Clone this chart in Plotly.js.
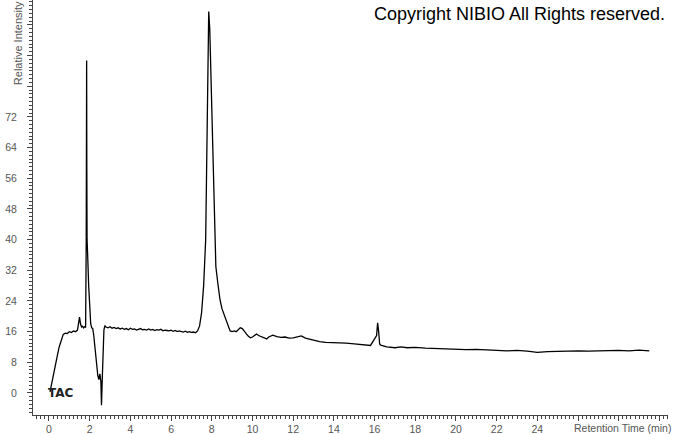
<!DOCTYPE html>
<html>
<head>
<meta charset="utf-8">
<script src="https://cdn.plot.ly/plotly-3.0.1.min.js"></script>
<style>html,body{margin:0;padding:0;background:#fff;}#chart{width:674px;height:434px;}</style>
</head>
<body>
<div id="chart"></div>
<script>
// Retention time (min)
var retentionTime = [
  0.05,0.1,0.2,0.3,0.4,0.5,0.6,0.7,0.8,0.9,1.0,1.1,1.2,1.3,1.4,1.45,1.5,1.55,1.6,1.65,1.7,1.75,1.8,
  1.83,1.84,1.85,1.86,1.87,1.88,1.9,1.95,2.0,2.05,2.1,2.15,2.2,2.25,2.3,2.35,2.4,2.45,2.5,2.55,2.58,2.62,2.65,2.7,2.75,2.8,
  2.9,3.0,3.1,3.2,3.3,3.4,3.5,3.6,3.7,3.8,3.9,4.0,4.1,4.2,4.3,4.4,4.5,4.6,4.7,4.8,4.9,5.0,
  5.1,5.2,5.3,5.4,5.5,5.6,5.7,5.8,5.9,6.0,6.1,6.2,6.3,6.4,6.5,6.6,6.7,6.8,6.9,7.0,7.1,7.2,7.3,
  7.4,7.5,7.6,7.7,7.75,7.8,7.85,7.9,7.95,8.0,8.05,8.1,8.15,8.2,8.3,8.4,8.5,8.6,8.7,8.8,8.9,
  9.0,9.1,9.2,9.3,9.4,9.5,9.6,9.7,9.8,9.9,10.0,10.1,10.2,10.3,10.4,10.5,10.6,10.7,10.8,10.9,
  11.0,11.2,11.4,11.6,11.8,12.0,12.2,12.4,12.6,12.8,13.0,13.3,13.6,14.0,14.3,14.6,15.0,15.4,15.8,16.1,
  16.15,16.2,16.25,16.3,16.4,16.6,17.0,17.3,17.6,18.0,18.5,19.0,19.5,20.0,20.5,21.0,21.5,22.0,22.5,23.0,
  23.5,24.0,24.5,25.0,25.5,26.0,26.5,27.0,27.5,28.0,28.5,29.0,29.5,29.9
];
// Relative intensity
var relativeIntensity = [
  0.3,1.5,4,7,9.5,12,14,15.3,15.6,15.5,16.0,15.8,16.2,16.0,16.4,18.5,19.8,18.0,17.2,17.4,17.0,17.3,17.1,
  40,58,86.7,58,40,39,36,28,22,18,17,16.8,15,12,9,6,4.5,3.5,5,3,-3.2,4,12,16.5,17.6,
  17.2,17.0,17.3,16.9,17.1,16.8,17.0,16.7,16.9,16.6,16.8,16.5,16.9,16.6,16.7,16.4,16.6,16.8,16.5,16.6,16.4,16.7,
  16.4,16.6,16.3,16.5,16.4,16.6,16.2,16.4,16.3,16.2,16.4,16.1,16.3,16.0,16.2,16.0,15.9,16.1,15.8,16.0,15.8,15.9,15.7,
  16.2,17.5,21,28,40,60,80,99.5,95,85,72,60,50,42,33,28.5,24.5,22,20.5,19,17.5,
  16.2,16.0,16.2,16.0,16.6,17.0,16.8,16.0,15.4,14.8,14.4,14.6,15.1,15.4,15.0,14.8,14.5,14.2,14.1,14.6,
  14.8,15.1,14.7,14.5,14.6,14.3,14.4,14.6,14.9,14.3,14.0,13.8,13.4,13.2,13.1,13.2,13.0,12.8,12.6,12.4,
  15,18.3,16,12.8,12.5,12.3,12.0,11.8,12.0,11.8,11.9,11.7,11.6,11.5,11.4,11.3,11.4,11.2,11.1,11.0,
  11.1,10.9,10.6,10.8,10.9,10.9,11.0,10.9,11.0,11.0,11.1,11.0,11.2,11.0
];
// tick labels hidden where the reference shows none
var yHiddenLabels = {"80": "", "88": "", "96": ""};
var xHiddenLabels = {"26": "", "28": "", "30": ""};

var trace = {
  x: retentionTime, y: relativeIntensity, type: 'scatter', mode: 'lines',
  line: {color: '#000', width: 1.3}, hoverinfo: 'skip'
};
var tickFont = {family: 'Liberation Sans, Arial, sans-serif', size: 10.5, color: '#555'};
var layout = {
  width: 674, height: 434,
  margin: {l: 33, r: 6, t: 0, b: 19, pad: 0},
  paper_bgcolor: '#fff', plot_bgcolor: '#fff',
  showlegend: false,
  xaxis: {
    range: [-0.786, 30.42], showgrid: false, zeroline: false,
    showline: true, linecolor: '#444', linewidth: 1,
    tickmode: 'linear', tick0: 0, dtick: 2, labelalias: xHiddenLabels,
    ticks: 'outside', ticklen: 5, tickcolor: '#444', tickfont: tickFont,
    ticklabelstandoff: -1,
    minor: {tickmode: 'linear', tick0: 0, dtick: 0.2, ticks: 'outside', ticklen: 3, tickcolor: '#444', showgrid: false}
  },
  yaxis: {
    range: [-5.74, 102.5], showgrid: false, zeroline: false,
    showline: true, linecolor: '#444', linewidth: 1,
    tickmode: 'linear', tick0: 0, dtick: 8, labelalias: yHiddenLabels,
    ticks: 'outside', ticklen: 5, tickcolor: '#444', tickfont: tickFont,
    ticklabelstandoff: 8,
    minor: {tickmode: 'linear', tick0: 0, dtick: 1, ticks: 'outside', ticklen: 3, tickcolor: '#444', showgrid: false}
  },
  annotations: [
    {text: 'Copyright NIBIO All Rights reserved.', xref: 'paper', yref: 'paper', x: 0.998, y: 0.9663,
     xanchor: 'right', yanchor: 'middle', showarrow: false,
     font: {family: 'Liberation Sans, Arial, sans-serif', size: 18, color: '#000'}},
    {text: 'TAC', xref: 'x', yref: 'y', x: -0.15, y: 0, xanchor: 'left', yanchor: 'middle', showarrow: false,
     font: {family: 'DejaVu Sans, sans-serif', size: 12, color: '#222', weight: 'bold'}},
    {text: 'Relative Intensity', xref: 'paper', yref: 'paper', x: -0.0236, y: 0.896,
     xanchor: 'center', yanchor: 'middle', textangle: -90, showarrow: false,
     font: {family: 'Liberation Sans, Arial, sans-serif', size: 11, color: '#555'}},
    {text: 'Retention Time (min)', xref: 'paper', yref: 'paper', x: 1.008, y: -0.0313,
     xanchor: 'right', yanchor: 'middle', showarrow: false,
     font: {family: 'Liberation Sans, Arial, sans-serif', size: 10.5, color: '#555'}}
  ]
};
Plotly.newPlot('chart', [trace], layout, {displayModeBar: false, staticPlot: true});
</script>
</body>
</html>
